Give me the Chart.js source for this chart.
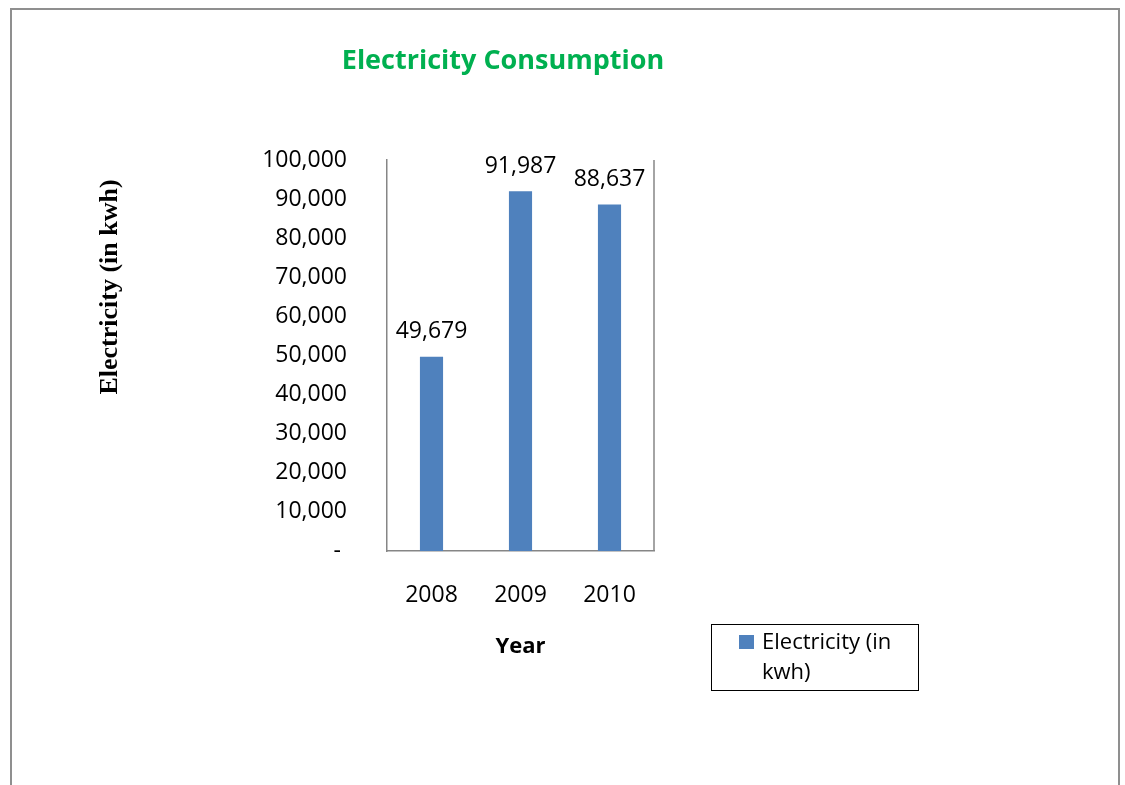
<!DOCTYPE html>
<html>
<head>
<meta charset="utf-8">
<script src="https://cdn.jsdelivr.net/npm/chart.js@4.4.1/dist/chart.umd.min.js"></script>
<style>
    body { margin: 0; background: #fff; width: 1125px; height: 785px; overflow: hidden; position: relative; font-family: "Open Sans", sans-serif; }
    #frame { position: absolute; left: 10px; top: 8px; width: 1106px; height: 800px; border: 2px solid #8f8f8f; border-bottom: none; pointer-events: none; }
    #wrap { position: absolute; left: 0; top: 0; width: 1006px; height: 785px; }
    #legend { position: absolute; left: 711px; top: 624px; width: 206px; height: 65px; border: 1px solid #000; }
    #legend .box { position: absolute; left: 27px; top: 10px; width: 15px; height: 14px; }
    #legend .text { position: absolute; left: 50px; top: 0; width: 150px; font-size: 22px; line-height: 30px; color: #000; }
</style>
</head>
<body>
<div id="wrap"><canvas id="myChart"></canvas></div>
<div id="legend"></div>
<div id="frame"></div>
<script>
const years = ['2008', '2009', '2010'];
const electricity = [49679, 91987, 88637];
const seriesLabel = 'Electricity (in kwh)';
const chartTitle = 'Electricity Consumption';
const yTitle = 'Electricity (in kwh)';
const xTitle = 'Year';
const yMin = 0;
const yMax = 100000;
const yStep = 10000;

const barColor = '#4f81bd';
const axisColor = '#868686';

const extras = {
    id: 'extras',
    afterDatasetsDraw(chart) {
        const ctx = chart.ctx;
        const area = chart.chartArea;
        ctx.save();

        // chart title, not centred on the plot
        ctx.font = 'bold 27px "Open Sans"';
        ctx.fillStyle = '#00b050';
        ctx.textAlign = 'center';
        ctx.textBaseline = 'middle';
        ctx.fillText(chartTitle, 503, 61);

        // value labels over the bars
        ctx.font = '23px "Open Sans"';
        ctx.fillStyle = '#000';
        chart.getDatasetMeta(0).data.forEach((bar, i) => {
            ctx.fillText(electricity[i].toLocaleString('en-US'), bar.x, bar.y - 25);
        });

        // right edge of the plot area
        ctx.strokeStyle = axisColor;
        ctx.lineWidth = 1.5;
        ctx.beginPath();
        ctx.moveTo(area.right, area.top);
        ctx.lineTo(area.right, area.bottom);
        ctx.stroke();

        // y axis title, sits higher than the middle of the axis
        ctx.translate(117, 287);
        ctx.rotate(-Math.PI / 2);
        ctx.font = 'bold 26px "Liberation Serif"';
        ctx.textBaseline = 'alphabetic';
        ctx.fillText(yTitle, 0, 0);
        ctx.restore();
    }
};

const ctx = document.getElementById('myChart').getContext('2d');

new Chart(ctx, {
    type: 'bar',
    data: {
        labels: years,
        datasets: [{
            label: seriesLabel,
            data: electricity,
            backgroundColor: barColor,
            barPercentage: 0.26,
            categoryPercentage: 1
        }]
    },
    options: {
        responsive: true,
        maintainAspectRatio: false,
        animation: false,
        layout: { padding: { left: 0, right: 352, top: 160, bottom: 0 } },
        plugins: {
            legend: { display: false },
            tooltip: { enabled: false },
            title: { display: false }
        },
        scales: {
            x: {
                grid: { display: false },
                border: { display: true, color: axisColor, width: 1.5 },
                ticks: {
                    color: '#000',
                    padding: 23,
                    font: { family: 'Open Sans', size: 23 }
                },
                title: {
                    display: true,
                    text: xTitle,
                    color: '#000',
                    font: { family: 'Open Sans', size: 22, weight: 'bold' },
                    padding: { top: 0, bottom: 124.8 }
                },
                afterFit(scale) { scale.height = 234; }
            },
            y: {
                min: yMin,
                max: yMax,
                grid: { display: false },
                border: { display: true, color: axisColor, width: 1.5 },
                ticks: {
                    stepSize: yStep,
                    color: '#000',
                    padding: 32,
                    font: { family: 'Open Sans', size: 23 },
                    callback: (v) => v === 0 ? '- ' : v.toLocaleString('en-US')
                },
                afterFit(scale) { scale.width = 387; }
            }
        }
    },
    plugins: [extras]
});

// legend box below the plot, to the right
const legend = document.getElementById('legend');
const sw = document.createElement('div');
sw.className = 'box';
sw.style.background = barColor;
const txt = document.createElement('div');
txt.className = 'text';
txt.textContent = seriesLabel;
legend.append(sw, txt);
</script>
</body>
</html>
